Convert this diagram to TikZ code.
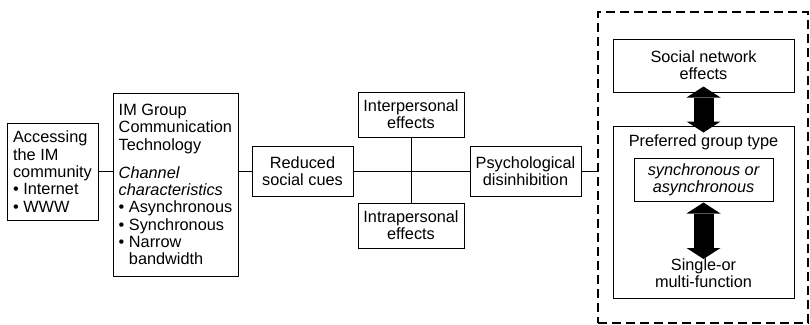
\documentclass[tikz,border=0pt]{standalone}
\usepackage{fontspec}
\setmainfont{Liberation Sans}
\usetikzlibrary{arrows.meta}
\newcommand\diagfont{\fontsize{16.3}{17.3}\selectfont}
\begin{document}
\begin{tikzpicture}[x=1pt,y=-1pt,
  font=\diagfont,
  box/.style={draw, line width=1pt, inner sep=0pt},
  lbl/.style={inner sep=0pt, align=center},
  link/.style={line width=1pt},
  bigtip/.tip={Triangle[width=34pt,length=11pt,line width=0pt]},
  bigarrow/.style={line width=20pt, bigtip-bigtip},
  ]
\useasboundingbox (0,0) rectangle (810,324);

% chain of boxes
\node[box, minimum width=91pt, minimum height=97pt, align=left] (acc) at (52.5,171.5)
  {Accessing\\the IM\\community\\• Internet\\• WWW};
\node[box, minimum width=125pt, minimum height=183pt, align=left] (im) at (175.5,184.5)
  {IM Group\\Communication\\Technology\\[11pt]\textit{Channel}\\\textit{characteristics}\\• Asynchronous\\• Synchronous\\• Narrow\\\phantom{• }bandwidth};
\node[box, align=center, minimum width=101pt, minimum height=50pt] (red) at (302.5,171) {Reduced\\social cues};
\node[box, align=center, minimum width=106pt, minimum height=45pt] (inter) at (411,114.5) {Interpersonal\\effects};
\node[box, align=center, minimum width=106pt, minimum height=45pt] (intra) at (411,225.5) {Intrapersonal\\effects};
\node[box, align=center, minimum width=111pt, minimum height=50pt] (psy) at (525.5,171) {Psychological\\disinhibition};

% dashed group on the right
\node[draw, line width=2pt, dash pattern=on 9pt off 5pt, minimum width=210pt, minimum height=311pt] (grp) at (703,167.5) {};
\node[box, align=center, minimum width=181pt, minimum height=53pt] (soc) at (703.5,65.5) {Social network\\effects};
\node[box, minimum width=181pt, minimum height=172pt] (pref) at (703.5,212) {};
\node[lbl] (preft) at (703.5,142) {Preferred group type};
\node[box, align=center, minimum width=139pt, minimum height=43pt, font=\diagfont\itshape] (sync) at (703.5,179.5) {synchronous or\\asynchronous};
\node[lbl] (single) at (703.5,273) {Single-or\\multi-function};
\coordinate (fnend) at (703.5,259);

% connectors
\draw[link] (acc.east) -- (acc.east -| im.west);
\draw[link] (red.west -| im.east) -- (red.west);
\draw[link] (red.east) -- (psy.west);
\draw[link] (inter.south) -- (intra.north);
\draw[link] (psy.east) -- (psy.east -| grp.west);
\draw[bigarrow] ([yshift=6pt]soc.south) -- ([yshift=-7pt]pref.north);
\draw[bigarrow] ([yshift=-1pt]sync.south) -- (fnend);
\end{tikzpicture}
\end{document}
